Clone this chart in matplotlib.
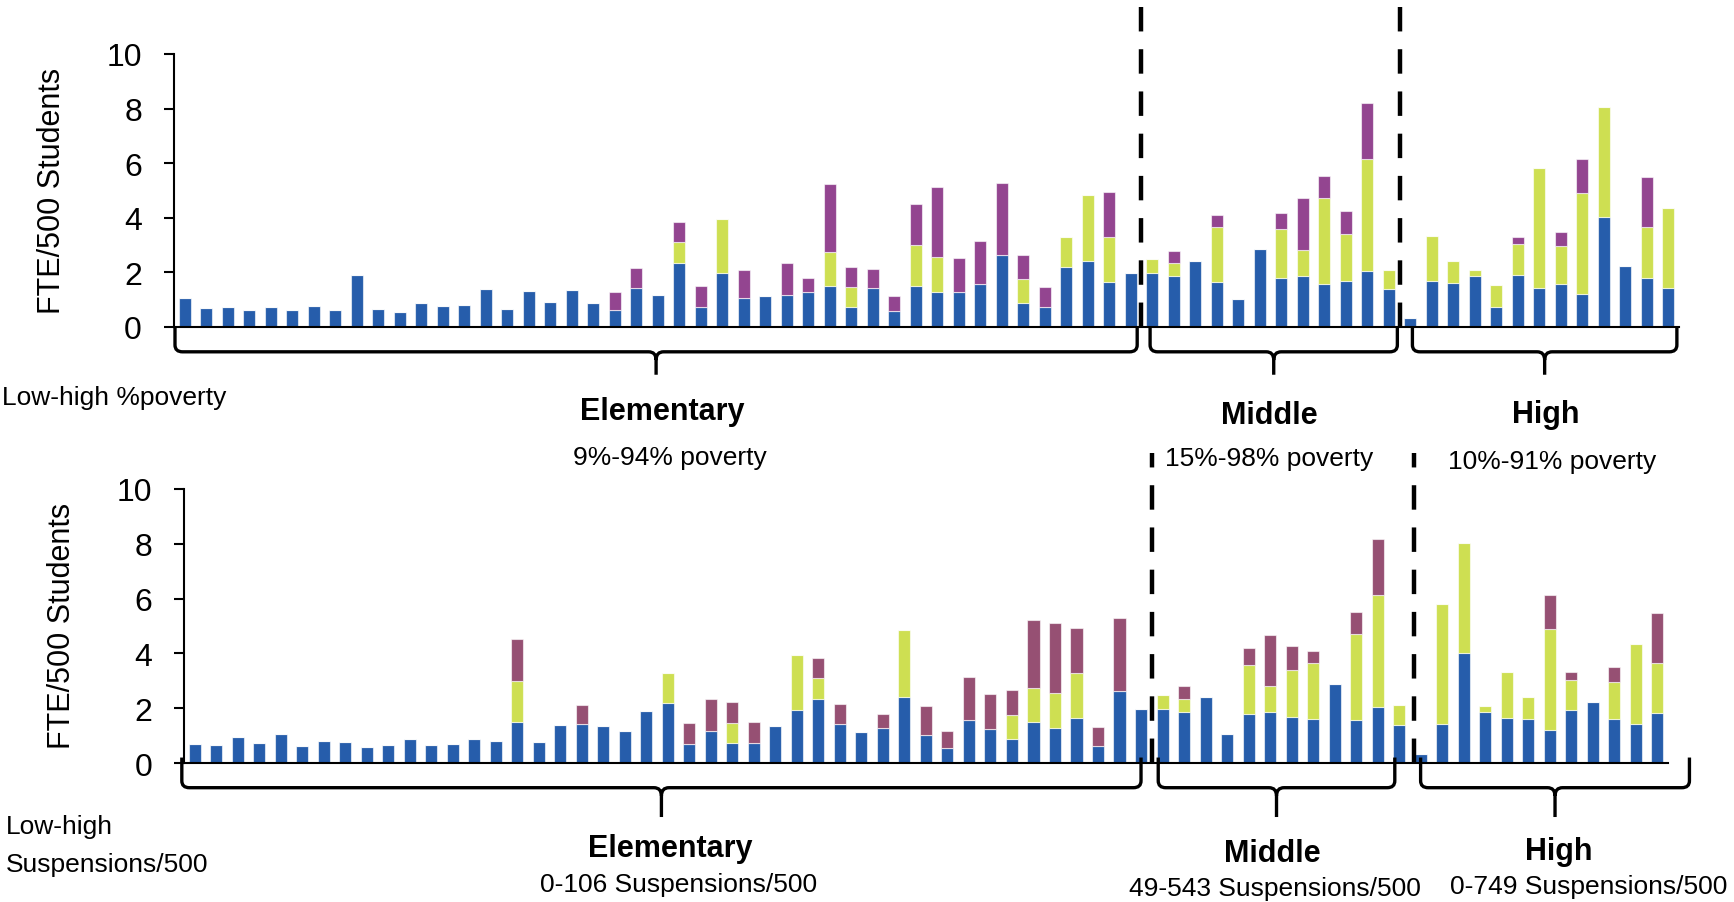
import matplotlib
matplotlib.use('Agg')
import matplotlib.pyplot as plt
from matplotlib.path import Path
from matplotlib.patches import PathPatch
import numpy as np

plt.rcParams['font.family'] = ['Liberation Sans', 'DejaVu Sans']

# top chart: schools ordered low-high % poverty (elementary 45, middle 12, high 13)
pov_blue = [1.05, 0.69, 0.73, 0.63, 0.74, 0.62, 0.77, 0.61, 1.89, 0.66,
            0.56, 0.88, 0.78, 0.80, 1.39, 0.65, 1.33, 0.93, 1.35, 0.88,
            0.63, 1.43, 1.18, 2.35, 0.72, 1.97, 1.05, 1.15, 1.17, 1.28,
            1.49, 0.72, 1.43, 0.57, 1.49, 1.27, 1.27, 1.56, 2.63, 0.87,
            0.72, 2.18, 2.41, 1.63, 1.99,
            1.96, 1.87, 2.41, 1.63, 1.04, 2.87, 1.78, 1.87, 1.56, 1.70, 2.04, 1.40,
            0.33, 1.67, 1.60, 1.85, 0.74, 1.91, 1.44, 1.59, 1.22, 4.04, 2.22, 1.80, 1.44]
pov_green = [0, 0, 0, 0, 0, 0, 0, 0, 0, 0,
             0, 0, 0, 0, 0, 0, 0, 0, 0, 0,
             0, 0, 0, 0.75, 0, 1.98, 0, 0, 0, 0,
             1.24, 0.75, 0, 0, 1.51, 1.29, 0, 0, 0, 0.90,
             0, 1.11, 2.44, 1.65, 0,
             0.53, 0.47, 0, 2.04, 0, 0, 1.81, 0.95, 3.17, 1.70, 4.12, 0.70,
             0, 1.66, 0.81, 0.22, 0.78, 1.13, 4.38, 1.36, 3.69, 4.03, 0, 1.86, 2.91]
pov_purple = [0, 0, 0, 0, 0, 0, 0, 0, 0, 0,
              0, 0, 0, 0, 0, 0, 0, 0, 0, 0,
              0.66, 0.73, 0, 0.74, 0.77, 0, 1.03, 0, 1.17, 0.51,
              2.50, 0.74, 0.70, 0.58, 1.51, 2.57, 1.26, 1.60, 2.66, 0.87,
              0.73, 0, 0, 1.66, 0,
              0, 0.46, 0, 0.42, 0, 0, 0.59, 1.89, 0.79, 0.86, 2.05, 0,
              0, 0, 0, 0, 0, 0.26, 0, 0.53, 1.24, 0, 0, 1.83, 0]
pov_groups = [45, 12, 13]

# bottom chart: schools ordered low-high suspensions/500 (elementary 45, middle 12, high 12)
sus_blue = [0.69, 0.66, 0.94, 0.74, 1.05, 0.62, 0.80, 0.75, 0.57, 0.64,
            0.88, 0.67, 0.68, 0.88, 0.79, 1.51, 0.78, 1.39, 1.41, 1.35,
            1.17, 1.89, 2.19, 0.71, 1.16, 0.73, 0.74, 1.34, 1.95, 2.34,
            1.42, 1.13, 1.27, 2.42, 1.03, 0.56, 1.56, 1.25, 0.88, 1.48,
            1.28, 1.63, 0.63, 2.64, 1.98,
            1.97, 1.86, 2.42, 1.05, 1.79, 1.86, 1.69, 1.62, 2.87, 1.57, 2.03, 1.39,
            0.33, 1.42, 4.01, 1.85, 1.65, 1.61, 1.22, 1.92, 2.21, 1.61, 1.44, 1.82]
sus_green = [0, 0, 0, 0, 0, 0, 0, 0, 0, 0,
             0, 0, 0, 0, 0, 1.49, 0, 0, 0, 0,
             0, 0, 1.09, 0, 0, 0.73, 0, 0, 1.99, 0.75,
             0, 0, 0, 2.42, 0, 0, 0, 0, 0.87, 1.25,
             1.27, 1.65, 0, 0, 0,
             0.51, 0.46, 0, 0, 1.80, 0.95, 1.70, 2.04, 0, 3.15, 4.10, 0.71,
             0, 4.38, 4.03, 0.23, 1.67, 0.80, 3.68, 1.10, 0, 1.33, 2.90, 1.83]
sus_purple = [0, 0, 0, 0, 0, 0, 0, 0, 0, 0,
              0, 0, 0, 0, 0, 1.51, 0, 0, 0.72, 0,
              0, 0, 0, 0.74, 1.18, 0.75, 0.74, 0, 0, 0.73,
              0.73, 0, 0.52, 0, 1.05, 0.60, 1.58, 1.28, 0.90, 2.48,
              2.57, 1.63, 0.67, 2.64, 0,
              0, 0.48, 0, 0, 0.59, 1.87, 0.87, 0.42, 0, 0.79, 2.06, 0,
              0, 0, 0, 0, 0, 0, 1.23, 0.29, 0, 0.55, 0, 1.84]
sus_groups = [45, 12, 12]

BLUE = '#265DAB'
GREEN = '#CEDF52'


def brace(ax, x0, x1, y_top, y_mid, y_tip):
    xm = (x0 + x1) / 2
    r = 0.35
    s = 0.3
    verts = [(x0, y_top), (x0, y_mid + 0.25), (x0, y_mid), (x0 + r, y_mid),
             (xm - r, y_mid), (xm, y_mid), (xm, y_mid - s), (xm, y_tip),
             (xm, y_mid - s), (xm, y_mid), (xm + r, y_mid),
             (x1 - r, y_mid), (x1, y_mid), (x1, y_mid + 0.25), (x1, y_top)]
    codes = [Path.MOVETO, Path.LINETO, Path.CURVE3, Path.CURVE3,
             Path.LINETO, Path.CURVE3, Path.CURVE3, Path.LINETO,
             Path.MOVETO, Path.CURVE3, Path.CURVE3,
             Path.LINETO, Path.CURVE3, Path.CURVE3, Path.LINETO]
    ax.add_patch(PathPatch(Path(verts, codes), fill=False, lw=2.4,
                           edgecolor='black', clip_on=False, zorder=5))


def panel(ax, blue, green, purple, purple_color, groups, dash_x, dash_top, braces, y_b):
    x = np.arange(len(blue))
    blue = np.array(blue)
    green = np.array(green)
    purple = np.array(purple)
    ec = (1, 1, 1, 0.6)
    ax.bar(x, blue, width=0.56, color=BLUE, edgecolor=ec, linewidth=0.8)
    ax.bar(x, green, bottom=blue, width=0.56, color=GREEN, edgecolor=ec, linewidth=0.8)
    ax.bar(x, purple, bottom=blue + green, width=0.56, color=purple_color, edgecolor=ec, linewidth=0.8)
    ax.set_xlim(-0.5, len(blue) - 0.5)
    ax.set_ylim(0, 10)
    ax.set_yticks(range(0, 11, 2))
    ax.set_xticks([])
    ax.tick_params(axis='y', labelsize=23, length=7, width=1.5, pad=16)
    for side in ['top', 'right']:
        ax.spines[side].set_visible(False)
    for side in ['left', 'bottom']:
        ax.spines[side].set_linewidth(1.5)
    for dx in dash_x:
        ax.plot([dx, dx], [0, dash_top], color='black', lw=3.2,
                ls=(0, (5.5, 4)), clip_on=False, zorder=6)
    for b0, b1 in braces:
        brace(ax, b0, b1, y_b[0], y_b[1], y_b[2])


fig = plt.figure(figsize=(17.34, 9.03), dpi=100)

ax1 = fig.add_axes([0.1003, 0.6368, 0.868, 0.3023])
panel(ax1, pov_blue, pov_green, pov_purple, '#934590', pov_groups,
      [44.5, 56.5], 11.9, [(-0.45, 44.3), (44.9, 56.4), (57.1, 69.4)], (0, -0.91, -1.75))

ax2 = fig.add_axes([0.1061, 0.1539, 0.8558, 0.3035])
panel(ax2, sus_blue, sus_green, sus_purple, '#965073', sus_groups,
      [44.5, 56.7], 11.3, [(-0.6, 44.0), (44.8, 55.8), (57.0, 69.5)], (0.2, -0.9, -1.97))

fig.text(0.030, 0.7885, 'FTE/500 Students', rotation=90, ha='center', va='center', fontsize=22)
fig.text(0.0358, 0.3068, 'FTE/500 Students', rotation=90, ha='center', va='center', fontsize=22)

# labels under the top chart
fig.text(0.001, 0.5592, 'Low-high %poverty', ha='left', va='center', fontsize=19)
fig.text(0.3818, 0.5437, 'Elementary', ha='center', va='center', fontsize=22, fontweight='bold')
fig.text(0.3864, 0.4928, '9%-94% poverty', ha='center', va='center', fontsize=19)
fig.text(0.7318, 0.5393, 'Middle', ha='center', va='center', fontsize=22, fontweight='bold')
fig.text(0.7318, 0.4917, '15%-98% poverty', ha='center', va='center', fontsize=19)
fig.text(0.8916, 0.5404, 'High', ha='center', va='center', fontsize=22, fontweight='bold')
fig.text(0.8950, 0.4884, '10%-91% poverty', ha='center', va='center', fontsize=19)

# labels under the bottom chart
fig.text(0.0035, 0.0842, 'Low-high', ha='left', va='center', fontsize=19)
fig.text(0.0035, 0.0421, 'Suspensions/500', ha='left', va='center', fontsize=19)
fig.text(0.3864, 0.0598, 'Elementary', ha='center', va='center', fontsize=22, fontweight='bold')
fig.text(0.3916, 0.0199, '0-106 Suspensions/500', ha='center', va='center', fontsize=19)
fig.text(0.7336, 0.0543, 'Middle', ha='center', va='center', fontsize=22, fontweight='bold')
fig.text(0.7353, 0.0155, '49-543 Suspensions/500', ha='center', va='center', fontsize=19)
fig.text(0.8991, 0.0565, 'High', ha='center', va='center', fontsize=22, fontweight='bold')
fig.text(0.9164, 0.0177, '0-749 Suspensions/500', ha='center', va='center', fontsize=19)

fig.savefig('out.png', dpi=100)
